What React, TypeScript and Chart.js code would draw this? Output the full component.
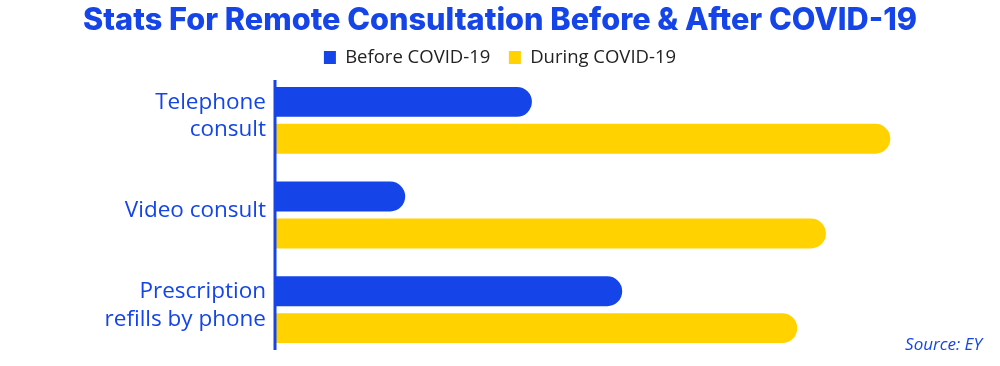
import React, { useEffect, useRef } from "react";
import { Chart, registerables } from "chart.js";

Chart.register(...registerables);

const categories: (string | string[])[] = [
  ["Telephone", "consult"],
  "Video consult",
  ["Prescription", "refills by phone"],
];
const beforeValues = [36.7, 18.6, 49.6];
const duringValues = [87.9, 78.7, 74.6];
const seriesLabels = ["Before COVID-19", "During COVID-19"];
const titleText = "Stats For Remote Consultation Before & After COVID-19";
const sourceText = "Source: EY";

const BLUE = "#1545E8";
const YELLOW = "#FFD200";
const TITLE_FONT = "Inter, 'Noto Sans', sans-serif";
const FONT = "'Open Sans', 'Noto Sans', sans-serif";

const sourcePlugin = {
  id: "sourceNote",
  afterDraw(chart: any) {
    const ctx = chart.ctx;
    ctx.save();
    ctx.font = `italic 17px ${FONT}`;
    ctx.fillStyle = BLUE;
    ctx.textAlign = "right";
    ctx.textBaseline = "middle";
    ctx.fillText(sourceText, chart.width - 18, chart.height - 21);
    ctx.restore();
  },
};

const axisLinePlugin = {
  id: "axisLine",
  afterDatasetsDraw(chart: any) {
    const { ctx, chartArea } = chart;
    ctx.save();
    ctx.strokeStyle = BLUE;
    ctx.lineWidth = 3;
    ctx.beginPath();
    ctx.moveTo(chartArea.left, chartArea.top + 7);
    ctx.lineTo(chartArea.left, chartArea.bottom - 7);
    ctx.stroke();
    ctx.restore();
  },
};

export default function App() {
  const ref = useRef<HTMLCanvasElement | null>(null);
  useEffect(() => {
    if (!ref.current) return;
    const chart = new Chart(ref.current, {
      type: "bar",
      data: {
        labels: categories,
        datasets: [
          {
            label: seriesLabels[0],
            data: beforeValues,
            backgroundColor: BLUE,
            borderRadius: 15,
            borderSkipped: "start",
            categoryPercentage: 0.78,
            barPercentage: 0.81,
          },
          {
            label: seriesLabels[1],
            data: duringValues,
            backgroundColor: YELLOW,
            borderRadius: 15,
            borderSkipped: "start",
            categoryPercentage: 0.78,
            barPercentage: 0.81,
          },
        ],
      },
      options: {
        indexAxis: "y",
        animation: false,
        responsive: true,
        maintainAspectRatio: false,
        layout: { padding: { left: 25, right: 25, top: 0, bottom: 9 } },
        plugins: {
          title: {
            display: true,
            text: titleText,
            color: BLUE,
            font: { family: TITLE_FONT, size: 30.7, weight: "800" as any, lineHeight: 1 },
            padding: { top: 5.6, bottom: -6.6 },
          },
          legend: {
            display: true,
            maxHeight: 43.3,
            labels: {
              color: "#222",
              font: { family: FONT, size: 18.5 },
              boxWidth: 12,
              boxHeight: 13,
              padding: 18.5,
            },
          },
          tooltip: { enabled: false },
        },
        scales: {
          x: {
            display: false,
            min: 0,
            max: 100,
          },
          y: {
            grid: { display: false, drawTicks: false },
            border: { display: false },
            ticks: {
              color: BLUE,
              font: { family: FONT, size: 22.5, lineHeight: 1.22 },
              padding: 9,
              labelOffset: -4,
            },
            afterFit: (s: any) => {
              s.width = 250;
              s.paddingTop = 0;
              s.paddingBottom = 0;
            },
          },
        },
      },
      plugins: [sourcePlugin, axisLinePlugin],
    });
    return () => chart.destroy();
  }, []);
  return (
    <div style={{ position: "absolute", left: 0, top: 0, width: 1000, height: 366, background: "#fff" }}>
      <canvas ref={ref} />
    </div>
  );
}
